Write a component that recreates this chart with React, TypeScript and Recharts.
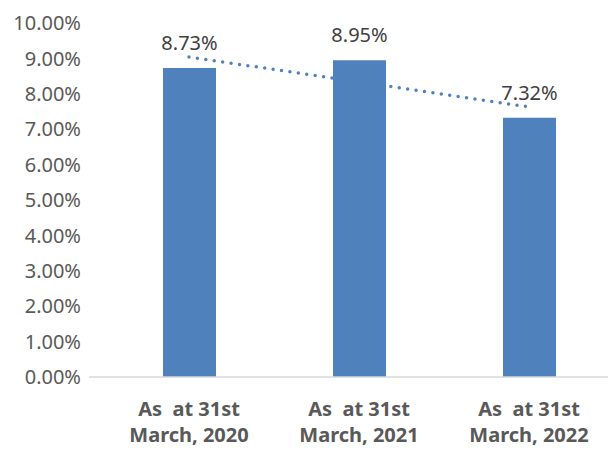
import React from "react";
import {
  ComposedChart,
  Bar,
  Line,
  XAxis,
  YAxis,
  LabelList,
} from "recharts";

const categories = ["As  at 31st\nMarch, 2020", "As  at 31st\nMarch, 2021", "As  at 31st\nMarch, 2022"];
const ratios = [8.73, 8.95, 7.32];
// linear trend drawn from the first to the last category
const trend = [9.04, null, 7.63];
const yTicks = [0, 1, 2, 3, 4, 5, 6, 7, 8, 9, 10];

const data = categories.map((name, i) => ({
  name,
  ratio: ratios[i],
  trend: trend[i],
}));

const BLUE = "#4F81BD";
const TEXT = "#595959";

function CategoryTick(props: any) {
  const { x, y, payload } = props;
  const lines = String(payload.value).split("\n");
  return (
    <text
      x={x}
      y={y}
      textAnchor="middle"
      fill={TEXT}
      fontFamily="'Noto Sans', sans-serif"
      fontWeight="bold"
      fontSize={20}
      style={{ whiteSpace: "pre" }}
    >
      {lines.map((line, i) => (
        <tspan key={i} x={x} y={y + 31 + i * 26}>
          {line}
        </tspan>
      ))}
    </text>
  );
}

export default function App() {
  return (
    <div
      style={{
        position: "fixed",
        left: 0,
        top: 0,
        width: 608,
        height: 450,
        overflow: "hidden",
        background: "#fff",
      }}
    >
      <ComposedChart
        width={614}
        height={450}
        data={data}
        margin={{ top: 23, right: 0, bottom: 0, left: 0 }}
      >
        <XAxis
          dataKey="name"
          axisLine={{ stroke: "#D9D9D9", strokeWidth: 1.5 }}
          tickLine={false}
          padding={{ left: 15, right: 0 }}
          height={73}
          interval={0}
          tick={<CategoryTick />}
        />
        <YAxis
          domain={[0, 10]}
          ticks={yTicks}
          width={89}
          axisLine={false}
          tickLine={false}
          tick={{
            fill: TEXT,
            fontSize: 20,
            fontFamily: "'Noto Sans', sans-serif",
          }}
          tickFormatter={(v: number) => `${v.toFixed(2)}%`}
        />
        <Bar dataKey="ratio" fill={BLUE} barSize={53} isAnimationActive={false}>
          <LabelList
            dataKey="ratio"
            position="top"
            offset={18}
            formatter={(v: number) => `${v.toFixed(2)}%`}
            style={{
              fill: "#404040",
              fontSize: 20,
              fontFamily: "'Noto Sans', sans-serif",
            }}
          />
        </Bar>
        <Line
          dataKey="trend"
          connectNulls
          stroke={BLUE}
          strokeWidth={3.5}
          strokeDasharray="0 8.5"
          strokeLinecap="round"
          dot={false}
          activeDot={false}
          isAnimationActive={false}
        />
      </ComposedChart>
    </div>
  );
}
